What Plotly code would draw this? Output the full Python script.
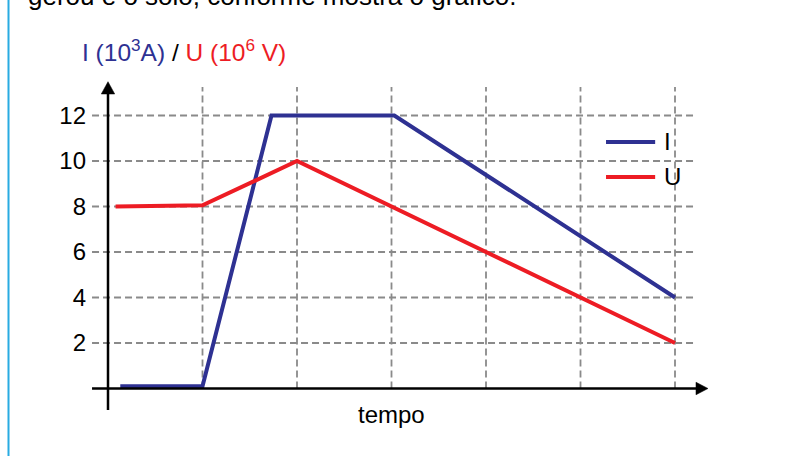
import plotly.graph_objects as go

# ---- data ----
t_I = [0.13, 1.0, 1.73, 3.03, 6.0]
v_I = [0.1, 0.1, 12.0, 12.0, 4.0]
t_U = [0.08, 1.0, 2.0, 6.0]
v_U = [8.0, 8.05, 10.0, 2.0]
name_I = "I"
name_U = "U"
y_ticks = [2, 4, 6, 8, 10, 12]
x_grid = [1, 2, 3, 4, 5, 6]
x_label = "tempo"
top_text = "gerou e o solo, conforme mostra o gráfico."

BLUE = "#2E3192"
RED = "#ED1C24"
GRID = "#8A8A8A"
FONT = "Liberation Sans, Arial, sans-serif"

W, H = 792, 456
X0PX, XSCALE = 108.0, 94.5
Y0PX, YSCALE = 388.5, 22.75

xr = [-X0PX / XSCALE, (W - X0PX) / XSCALE]
yr = [-(H - Y0PX) / YSCALE, Y0PX / YSCALE]

fig = go.Figure()
fig.add_trace(go.Scatter(x=t_I, y=v_I, mode="lines", name=name_I,
                         line=dict(color=BLUE, width=4), showlegend=False))
fig.add_trace(go.Scatter(x=t_U, y=v_U, mode="lines", name=name_U,
                         line=dict(color=RED, width=4), showlegend=False))

shapes = []
# horizontal dashed grid
for yv in y_ticks:
    shapes.append(dict(type="line", xref="x", yref="y", x0=-0.169, x1=6.233, y0=yv, y1=yv,
                       line=dict(color=GRID, width=1.8, dash="7px,4px"), layer="below"))
# vertical dashed grid
for xv in x_grid:
    shapes.append(dict(type="line", xref="x", yref="y", x0=xv, x1=xv, y0=0, y1=13.25,
                       line=dict(color=GRID, width=1.8, dash="7px,4px"), layer="below"))
# axes
shapes.append(dict(type="line", xref="x", yref="y", x0=0, x1=0, y0=-0.945, y1=12.95,
                   line=dict(color="black", width=2.5)))
shapes.append(dict(type="line", xref="x", yref="y", x0=-0.169, x1=6.23, y0=0, y1=0,
                   line=dict(color="black", width=2.5)))
# arrow heads
shapes.append(dict(type="path", xref="x", yref="y",
                   path="M -0.071,12.945 L 0,13.486 L 0.071,12.945 Z",
                   fillcolor="black", line=dict(color="black", width=0.5)))
shapes.append(dict(type="path", xref="x", yref="y",
                   path="M 6.222,0.277 L 6.349,0 L 6.222,-0.277 Z",
                   fillcolor="black", line=dict(color="black", width=0.5)))
# legend samples
shapes.append(dict(type="line", xref="x", yref="y", x0=5.27, x1=5.79, y0=10.84, y1=10.84,
                   line=dict(color=BLUE, width=4)))
shapes.append(dict(type="line", xref="x", yref="y", x0=5.27, x1=5.79, y0=9.30, y1=9.30,
                   line=dict(color=RED, width=4)))
# cyan page border
shapes.append(dict(type="line", xref="paper", yref="paper", x0=8.5 / W, x1=8.5 / W, y0=0, y1=1,
                   line=dict(color="#29ABE2", width=2)))

annotations = [
    dict(xref="x", yref="y", x=5.86, y=10.84, text=name_I, showarrow=False,
         xanchor="left", yanchor="middle", font=dict(size=24, color="black", family=FONT)),
    dict(xref="x", yref="y", x=5.86, y=9.30, text=name_U, showarrow=False,
         xanchor="left", yanchor="middle", font=dict(size=24, color="black", family=FONT)),
    dict(xref="x", yref="y", x=3.0, y=-1.15, text=x_label, showarrow=False,
         xanchor="center", yanchor="middle", font=dict(size=24, color="black", family=FONT)),
    dict(xref="paper", yref="paper", x=80 / W, y=1 - 50 / H,
         text=(f"<span style='color:{BLUE}'>I (10<sup>3</sup>A)</span> / "
               f"<span style='color:{RED}'>U (10<sup>6</sup> V)</span>"),
         showarrow=False, xanchor="left", yanchor="middle",
         font=dict(size=24.5, color="black", family=FONT)),
    dict(xref="paper", yref="paper", x=26 / W, y=1 + 3.6 / H, text=top_text,
         showarrow=False, xanchor="left", yanchor="middle",
         font=dict(size=26, color="black", family=FONT)),
]

fig.update_layout(
    width=W, height=H,
    margin=dict(l=0, r=0, t=0, b=0),
    paper_bgcolor="white", plot_bgcolor="white",
    shapes=shapes, annotations=annotations,
    xaxis=dict(range=xr, showgrid=False, zeroline=False, showticklabels=False,
               showline=False, fixedrange=True),
    yaxis=dict(range=yr, showgrid=False, zeroline=False, showline=False,
               anchor="free", position=X0PX / W, side="left",
               tickmode="array", tickvals=y_ticks, ticktext=[str(v) for v in y_ticks],
               ticks="", ticklabelstandoff=22,
               tickfont=dict(size=24, color="black", family=FONT), fixedrange=True),
    showlegend=False,
)

fig.write_html(
    "out.html",
    config={"displayModeBar": False},
    post_script="document.body.style.margin='0px';document.body.style.overflow='hidden';",
)
